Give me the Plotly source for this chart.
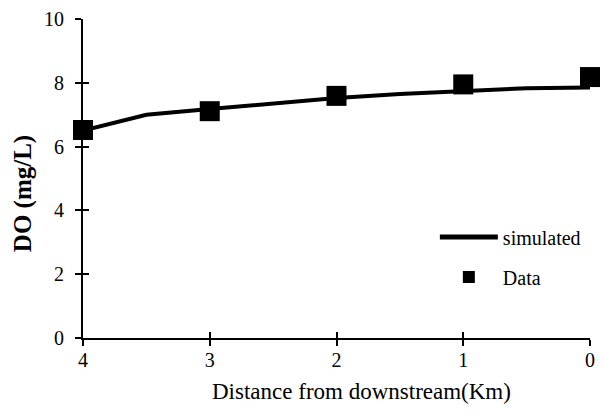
import plotly.graph_objects as go

# Distance from downstream (km) and dissolved oxygen (mg/L)
sim_distance = [4.0, 3.5, 3.0, 2.5, 2.0, 1.5, 1.0, 0.5, 0.0]
sim_do = [6.50, 7.00, 7.18, 7.35, 7.52, 7.65, 7.75, 7.83, 7.85]

obs_distance = [4, 3, 2, 1, 0]
obs_do = [6.52, 7.11, 7.59, 7.95, 8.18]

x_ticks = [4, 3, 2, 1, 0]
y_ticks = [0, 2, 4, 6, 8, 10]

FONT = "Times New Roman, Liberation Serif, DejaVu Serif, serif"

fig = go.Figure()
fig.add_trace(go.Scatter(
    x=sim_distance, y=sim_do, mode="lines", name="simulated",
    line=dict(color="black", width=4), legendgroup="a",
))
fig.add_trace(go.Scatter(
    x=obs_distance, y=obs_do, mode="markers", name="Data",
    marker=dict(symbol="square", size=20, color="black"),
    cliponaxis=False, legendgroup="b",
))

axis_common = dict(showgrid=False, zeroline=False, tickcolor="black",
                   tickwidth=2, ticklen=6)

fig.update_layout(
    width=603, height=410,
    margin=dict(l=83, r=8, t=16, b=72),
    paper_bgcolor="white", plot_bgcolor="white",
    font=dict(family=FONT, size=20, color="black"),
    xaxis=dict(range=[4, 0], tickvals=x_ticks, ticks="outside",
               showline=True, linecolor="black", linewidth=2,
               tickfont=dict(family=FONT, size=20), ticklabelstandoff=-3,
               **axis_common),
    yaxis=dict(range=[0, 10], tickvals=y_ticks, ticks="outside",
               showline=True, linecolor="black", linewidth=2,
               tickfont=dict(family=FONT, size=20), ticklabelstandoff=7,
               **axis_common),
    # inner halves of the crossing tick marks
    xaxis2=dict(range=[4, 0], tickvals=x_ticks, ticks="inside",
                overlaying="x", anchor="y", showticklabels=False,
                showline=False, **axis_common),
    yaxis2=dict(range=[0, 10], tickvals=y_ticks, ticks="inside",
                overlaying="y", anchor="x", showticklabels=False,
                showline=False, **axis_common),
    showlegend=True,
    legend=dict(x=0.694, y=0.378, xanchor="left", yanchor="top",
                bgcolor="rgba(0,0,0,0)", font=dict(family=FONT, size=20),
                itemsizing="constant", itemwidth=58, traceorder="grouped",
                tracegroupgap=11),
    annotations=[
        dict(text="Distance from downstream(Km)", xref="paper", yref="paper",
             x=0.55, y=-0.168, xanchor="center", yanchor="middle",
             showarrow=False, font=dict(family=FONT, size=23)),
        dict(text="<b>DO (mg/L)</b>", xref="paper", yref="paper",
             x=-0.117, y=0.453, xanchor="center", yanchor="middle",
             textangle=-90, showarrow=False, font=dict(family=FONT, size=25)),
    ],
)

# empty trace on the overlay axes so their ticks are drawn
fig.add_trace(go.Scatter(x=[None], y=[None], xaxis="x2", yaxis="y2",
                         showlegend=False, hoverinfo="skip"))

fig.write_html("out.html")
